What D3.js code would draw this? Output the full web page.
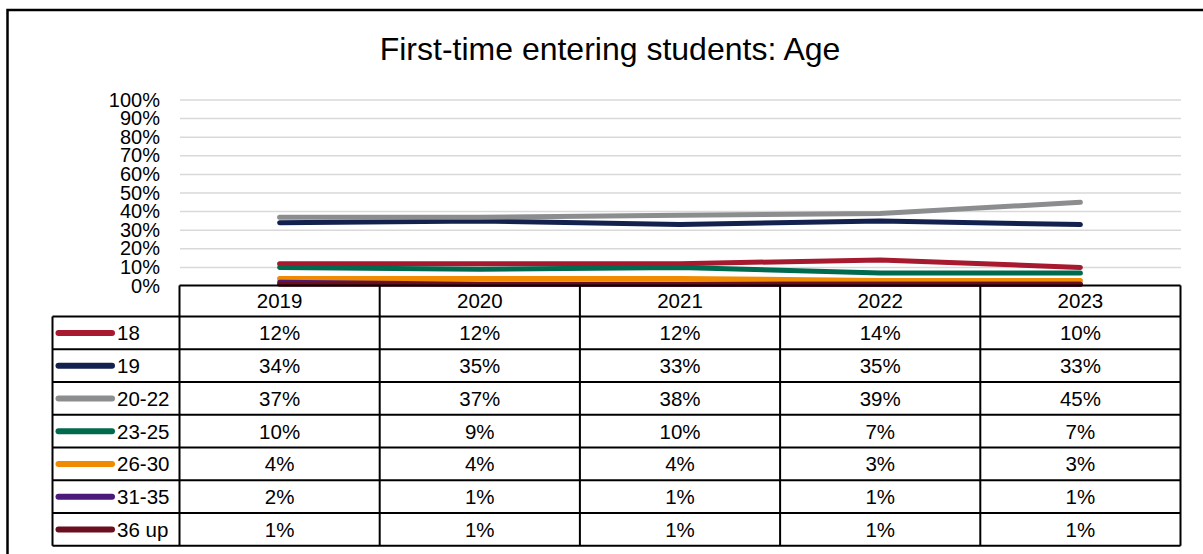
<!DOCTYPE html>
<html>
<head>
<meta charset="utf-8">
<script src="https://cdn.jsdelivr.net/npm/d3@7/dist/d3.min.js"></script>
<style>
  html, body { margin: 0; padding: 0; background: #fff; }
  svg { display: block; font-family: "Liberation Sans", Arial, sans-serif; }
</style>
</head>
<body>
<svg id="chart" width="1203" height="554"></svg>
<script>
const title = "First-time entering students: Age";
const years = ["2019", "2020", "2021", "2022", "2023"];
const seriesNames = ["18", "19", "20-22", "23-25", "26-30", "31-35", "36 up"];
const seriesColors = ["#A6192E", "#13214E", "#8B8D8E", "#006A4E", "#F08A00", "#4B1A7A", "#6A0F1F"];
const s18   = [12, 12, 12, 14, 10];
const s19   = [34, 35, 33, 35, 33];
const s2022 = [37, 37, 38, 39, 45];
const s2325 = [10, 9, 10, 7, 7];
const s2630 = [4, 4, 4, 3, 3];
const s3135 = [2, 1, 1, 1, 1];
const s36up = [1, 1, 1, 1, 1];
const seriesValues = [s18, s19, s2022, s2325, s2630, s3135, s36up];
const yTicks = [0, 10, 20, 30, 40, 50, 60, 70, 80, 90, 100];

const svg = d3.select("#chart");

// outer frame
svg.append("path")
  .attr("d", "M7.5,560 L7.5,10 L1210,10")
  .attr("fill", "none").attr("stroke", "#000").attr("stroke-width", 2.5);

svg.append("text")
  .attr("x", 610).attr("y", 60)
  .attr("text-anchor", "middle")
  .attr("font-size", 32)
  .attr("fill", "#000")
  .text(title);

const plotLeft = 180, plotRight = 1181;
const x = d3.scaleBand().domain(years).range([plotLeft - 0.5, 1180.5]);
const y = d3.scaleLinear().domain([0, 100]).range([286, 100]);

// gridlines
svg.append("g").selectAll("line")
  .data(yTicks.filter(d => d > 0))
  .join("line")
  .attr("x1", plotLeft).attr("x2", plotRight)
  .attr("y1", d => y(d)).attr("y2", d => y(d))
  .attr("stroke", "#D9D9D9").attr("stroke-width", 1.5);

// y axis labels
const yAxis = d3.axisLeft(y).tickValues(yTicks).tickFormat(d => d + "%").tickSize(0).tickPadding(0);
const ga = svg.append("g").attr("transform", "translate(160,0)").call(yAxis);
ga.select(".domain").remove();
ga.selectAll("text")
  .attr("font-size", 20)
  .attr("font-family", "'Liberation Sans', Arial, sans-serif")
  .attr("fill", "#000")
  .attr("dy", "0.3em");

// lines
const line = d3.line()
  .x((d, i) => x(years[i]) + x.bandwidth() / 2)
  .y(d => y(d));
svg.append("g").selectAll("path")
  .data(seriesValues)
  .join("path")
  .attr("d", d => line(d))
  .attr("fill", "none")
  .attr("stroke", (d, i) => seriesColors[i])
  .attr("stroke-width", 5)
  .attr("stroke-linecap", "round")
  .attr("stroke-linejoin", "round");

// data table
const tableTop = 285.5;
const headerH = 31;
const rowH = 32.75;
const legendLeft = 52.5;
const tg = svg.append("g");
const nRows = seriesNames.length;
const tableBottom = tableTop + headerH + rowH * nRows;
const fs = 20.5;

// header texts
tg.selectAll("text.yr")
  .data(years)
  .join("text")
  .attr("class", "yr")
  .attr("x", d => x(d) + x.bandwidth() / 2)
  .attr("y", tableTop + headerH / 2)
  .attr("dy", "0.36em")
  .attr("text-anchor", "middle")
  .attr("font-size", fs)
  .text(d => d);

// rows
seriesNames.forEach((name, r) => {
  const cy = tableTop + headerH + rowH * r + rowH / 2;
  tg.append("line")
    .attr("x1", 58.5).attr("x2", 112)
    .attr("y1", cy).attr("y2", cy)
    .attr("stroke", seriesColors[r]).attr("stroke-width", 6)
    .attr("stroke-linecap", "round");
  tg.append("text")
    .attr("x", 117).attr("y", cy).attr("dy", "0.36em")
    .attr("font-size", fs)
    .text(name);
  tg.selectAll(null)
    .data(seriesValues[r])
    .join("text")
    .attr("x", (d, i) => x(years[i]) + x.bandwidth() / 2)
    .attr("y", cy).attr("dy", "0.36em")
    .attr("text-anchor", "middle")
    .attr("font-size", fs)
    .text(d => d + "%");
});

// grid lines of table
const bw = 2;
tg.append("line").attr("x1", x.range()[0]).attr("x2", x.range()[1])
  .attr("y1", tableTop).attr("y2", tableTop).attr("stroke", "#000").attr("stroke-width", bw);
for (let r = 0; r <= nRows; r++) {
  const yy = tableTop + headerH + rowH * r;
  tg.append("line").attr("x1", legendLeft).attr("x2", x.range()[1])
    .attr("y1", yy).attr("y2", yy).attr("stroke", "#000").attr("stroke-width", bw);
}
tg.append("line").attr("x1", legendLeft).attr("x2", legendLeft)
  .attr("y1", tableTop + headerH).attr("y2", tableBottom).attr("stroke", "#000").attr("stroke-width", bw);
years.forEach(yr => {
  tg.append("line").attr("x1", x(yr)).attr("x2", x(yr))
    .attr("y1", tableTop).attr("y2", tableBottom).attr("stroke", "#000").attr("stroke-width", bw);
});
tg.append("line").attr("x1", x.range()[1]).attr("x2", x.range()[1])
  .attr("y1", tableTop).attr("y2", tableBottom).attr("stroke", "#000").attr("stroke-width", bw);
</script>
</body>
</html>
